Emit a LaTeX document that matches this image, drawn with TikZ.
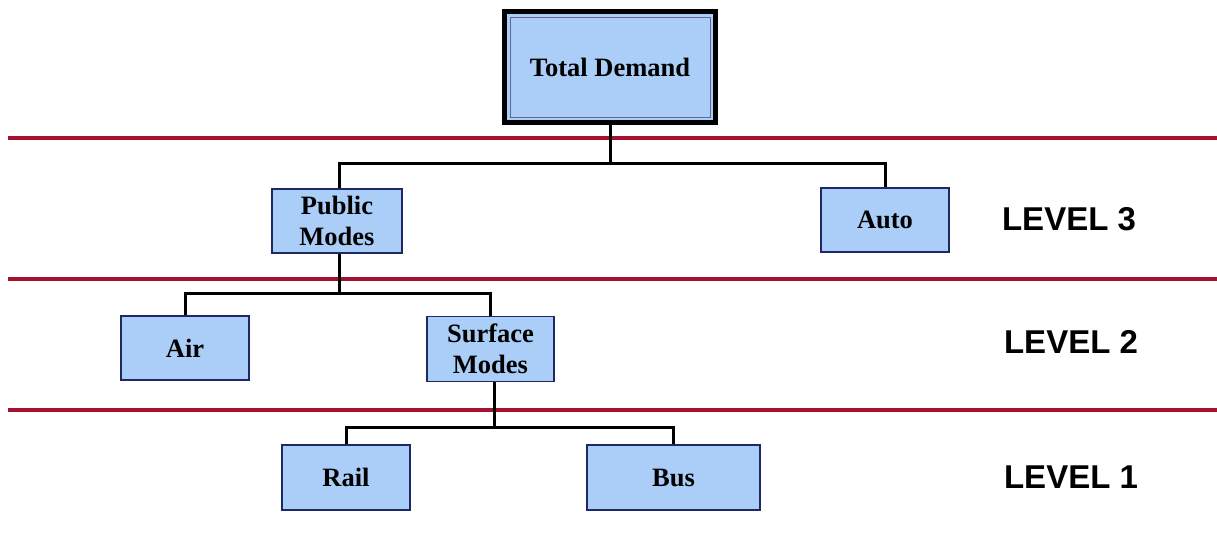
\documentclass[tikz,border=0pt]{standalone}
\usepackage{fontspec}
\setmainfont{Liberation Serif}
\newfontfamily\lvlfont{Liberation Sans}
\definecolor{boxblue}{RGB}{170,206,247}
\definecolor{boxedge}{RGB}{30,40,100}
\definecolor{rulered}{RGB}{163,18,48}
\tikzset{
  modebox/.style={draw=boxedge, line width=1.4pt, fill=boxblue, align=center,
    font=\fontsize{26.5}{31}\selectfont\bfseries, inner sep=0pt},
  conn/.style={draw=black, line width=3pt},
  redrule/.style={draw=rulered, line width=4pt},
  lvl/.style={font=\lvlfont\bfseries\fontsize{33}{38}\selectfont, inner sep=0pt}
}
\begin{document}
\begin{tikzpicture}[x=1pt,y=-1pt]
\useasboundingbox (0,0) rectangle (1217,533);
% horizontal rules
\draw[redrule] (8,138) -- (1217,138);
\draw[redrule] (8,279) -- (1217,279);
\draw[redrule] (8,410) -- (1217,410);
% top box
\node[draw=black, line width=5pt, fill=boxblue, minimum width=211pt, minimum height=111pt, inner sep=0pt] (td) at (610,67) {};
\node[draw=boxedge!70, line width=1pt, minimum width=200pt, minimum height=100pt, inner sep=0pt,
  font=\fontsize{26.5}{31}\selectfont\bfseries] (tdin) at (td.center) {Total Demand};
% level 3
\node[modebox, minimum width=130pt, minimum height=64pt] (pm) at (337,221) {Public\\Modes};
\node[modebox, minimum width=128pt, minimum height=64pt] (auto) at (885,220) {Auto};
% level 2
\node[modebox, minimum width=128pt, minimum height=64pt] (air) at (185,348) {Air};
\node[modebox, minimum width=127pt, minimum height=65pt] (sm) at (490.5,349) {Surface\\Modes};
% level 1
\node[modebox, minimum width=128pt, minimum height=65pt] (rail) at (346,477.5) {Rail};
\node[modebox, minimum width=173pt, minimum height=65pt] (bus) at (673.5,477.5) {Bus};
% connectors
\draw[conn] (td.south) -- (td.south |- 0,163) coordinate (h1);
\draw[conn] ([xshift=2pt]pm.north) |- (h1) -| (auto.north);
\draw[conn] ([xshift=2pt]pm.south) -- ([xshift=2pt]pm.south |- 0,293) coordinate (h2);
\draw[conn] (air.north) |- (h2) -| (sm.north);
\draw[conn] ([xshift=3.5pt]sm.south) -- ([xshift=3.5pt]sm.south |- 0,427) coordinate (h3);
\draw[conn] (rail.north) |- (h3) -| (bus.north);
% level labels
\node[lvl] (l3) at (1069,219) {LEVEL 3};
\node[lvl] (l2) at (1071,342) {LEVEL 2};
\node[lvl] (l1) at (1071,477) {LEVEL 1};
\end{tikzpicture}
\end{document}
